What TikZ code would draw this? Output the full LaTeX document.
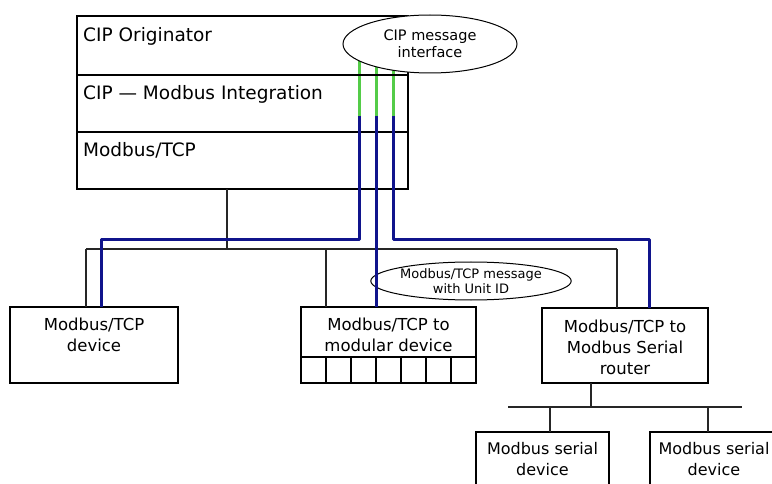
\documentclass[tikz,border=0pt]{standalone}
\usepackage{fontspec}
\setmainfont{DejaVu Sans}
\usetikzlibrary{shapes.geometric,positioning,backgrounds,calc}

\definecolor{tcpblue}{RGB}{16,20,140}
\definecolor{cipgreen}{RGB}{84,204,72}

\begin{document}
\begin{tikzpicture}[x=1pt,y=-1pt,
    layer/.style={draw,line width=2pt,minimum width=331pt,anchor=north west,inner sep=0pt,outer sep=0pt},
    layertext/.style={anchor=base west,inner sep=0pt,font=\fontsize{18.5}{22}\selectfont},
    devbox/.style={draw,line width=1.2pt,anchor=north west,inner sep=0pt,outer sep=0pt},
    devtext/.style={anchor=north,align=center,inner sep=0pt,font=\fontsize{16.5}{21}\selectfont},
    bubble/.style={draw,ellipse,fill=white,line width=1pt,inner sep=0pt,align=center},
    wire/.style={line width=1.2pt,draw=black!85},
    cipwire/.style={line width=3pt,draw=cipgreen},
    tcpwire/.style={line width=3pt,draw=tcpblue,line join=round}]
            \clip (0,0) rectangle (772,484);

            \node[layer,minimum height=59pt] (orig) at (77,16) {};
            \node[layer,minimum height=57pt] (integ) at (orig.south west) {};
            \node[layer,minimum height=57pt] (mtcp) at (integ.south west) {};
            \node[layertext] (origlbl) at (83,42) {CIP Originator};
            \node[layertext] (integlbl) at (83,100) {CIP — Modbus Integration};
            \node[layertext] (mtcplbl) at (83,157) {Modbus/TCP};

            \node[bubble,minimum width=174pt,minimum height=58pt,font=\fontsize{14.5}{17}\selectfont] (cip) at (430,44) {CIP message\\interface};

            \node[devbox,minimum width=168pt,minimum height=76pt] (tcpdev) at (10,307) {};
            \node[devbox,minimum width=175pt,minimum height=76pt] (modular) at (301,307) {};
            \node[devbox,minimum width=166pt,minimum height=75pt] (router) at (542,308) {};
            \node[devbox,minimum width=133pt,minimum height=70pt] (serial1) at (476,432) {};
            \node[devbox,minimum width=133pt,minimum height=70pt] (serial2) at (650,432) {};

            \node[devtext,below=11pt of tcpdev.north] (tcpdevlbl) {Modbus/TCP\\device};
            \node[devtext,below=11pt of modular.north] (modularlbl) {Modbus/TCP to\\modular device};
            \node[devtext,below=12pt of router.north] (routerlbl) {Modbus/TCP to\\Modbus Serial\\router};
            \node[devtext,below=10pt of serial1.north,font=\fontsize{16}{21}\selectfont] (serial1lbl) {Modbus serial\\device};
            \node[devtext,below=10pt of serial2.north,xshift=-2.5pt,font=\fontsize{16}{21}\selectfont] (serial2lbl) {Modbus serial\\device};

            \draw[devbox] ($(modular.south west)+(0,-26)$) -- ($(modular.south east)+(0,-26)$);
            \foreach \cx in {1,...,6}
              \draw[devbox] ($(modular.south west)+(\cx*25,0)$) -- ++(0,-26);

            \node[bubble,minimum width=174pt,minimum height=38pt,font=\fontsize{13}{15}\selectfont] (unitid) at (471,281) {Modbus/TCP message\\with Unit ID};

            \coordinate (tap) at (227,249);
            \coordinate (busL) at (86,249);
            \coordinate (busM) at (326,249);
            \coordinate (busR) at (617,249);
            \draw[wire] (tap |- mtcp.south) -- (tap);
            \draw[wire] (busL) -- (busR);
            \draw[wire] (busL) -- (busL |- tcpdev.north);
            \draw[wire] (busM) -- (busM |- modular.north);
            \draw[wire] (busR) -- (busR |- router.north);

            \coordinate (stap) at (591,407);
            \coordinate (sbusL) at (508,407);
            \coordinate (sbusR) at (742,407);
            \coordinate (s1) at (550,407);
            \coordinate (s2) at (708,407);
            \draw[wire] (stap |- router.south) -- (stap);
            \draw[wire] (sbusL) -- (sbusR);
            \draw[wire] (s1) -- (s1 |- serial1.north);
            \draw[wire] (s2) -- (s2 |- serial2.north);

            \coordinate (t1) at (359,116);
            \coordinate (t2) at (376,116);
            \coordinate (t3) at (393,116);
            \coordinate (b1) at (101,240);
            \coordinate (b3) at (649,240);
            \begin{scope}[on background layer]
              \draw[cipwire] (t1 |- cip.center) -- (t1);
              \draw[cipwire] (t2 |- cip.center) -- (t2);
              \draw[cipwire] (t3 |- cip.center) -- (t3);
            \end{scope}
            \draw[tcpwire] (t1) -- (t1 |- b1) -- (b1) -- (b1 |- tcpdev.north);
            \draw[tcpwire] (t2) -- (t2 |- modular.north);
            \draw[tcpwire] (t3) -- (t3 |- b3) -- (b3) -- (b3 |- router.north);
\end{tikzpicture}
\end{document}
